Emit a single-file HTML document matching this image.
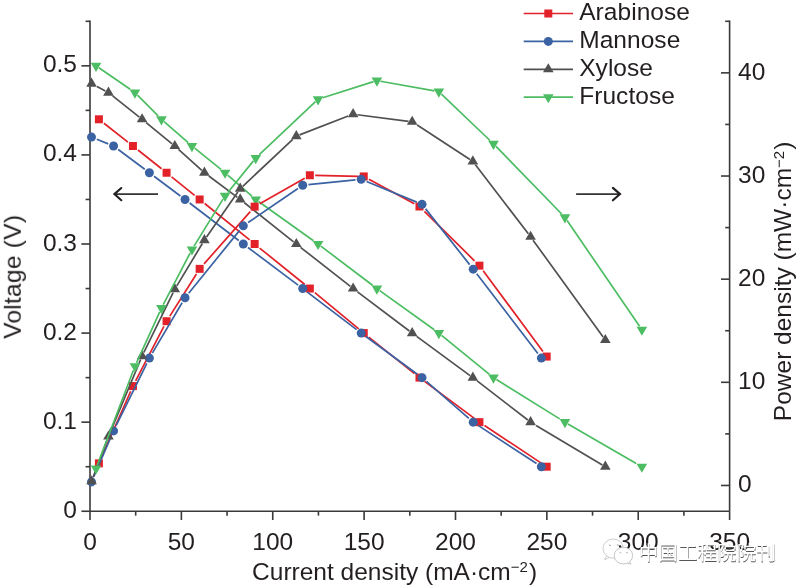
<!DOCTYPE html>
<html><head><meta charset="utf-8"><style>
html,body{margin:0;padding:0;background:#fff;}
svg{display:block;}
</style></head><body>
<svg width="800" height="588" viewBox="0 0 800 588">
<rect width="800" height="588" fill="#fff"/>
<g><path d="M90.0 511.25H729.60" stroke="#3a3839" stroke-width="1.6"/>
<path d="M90.0 20.50V511.25" stroke="#3a3839" stroke-width="1.6"/>
<path d="M729.60 20.50V511.25" stroke="#3a3839" stroke-width="1.6"/>
<path d="M90.00 511.25v8.8" stroke="#3a3839" stroke-width="1.6"/>
<path d="M135.69 511.25v4.4" stroke="#3a3839" stroke-width="1.6"/>
<path d="M181.37 511.25v8.8" stroke="#3a3839" stroke-width="1.6"/>
<path d="M227.06 511.25v4.4" stroke="#3a3839" stroke-width="1.6"/>
<path d="M272.74 511.25v8.8" stroke="#3a3839" stroke-width="1.6"/>
<path d="M318.43 511.25v4.4" stroke="#3a3839" stroke-width="1.6"/>
<path d="M364.11 511.25v8.8" stroke="#3a3839" stroke-width="1.6"/>
<path d="M409.80 511.25v4.4" stroke="#3a3839" stroke-width="1.6"/>
<path d="M455.49 511.25v8.8" stroke="#3a3839" stroke-width="1.6"/>
<path d="M501.17 511.25v4.4" stroke="#3a3839" stroke-width="1.6"/>
<path d="M546.86 511.25v8.8" stroke="#3a3839" stroke-width="1.6"/>
<path d="M592.54 511.25v4.4" stroke="#3a3839" stroke-width="1.6"/>
<path d="M638.23 511.25v8.8" stroke="#3a3839" stroke-width="1.6"/>
<path d="M683.91 511.25v4.4" stroke="#3a3839" stroke-width="1.6"/>
<path d="M729.60 511.25v8.8" stroke="#3a3839" stroke-width="1.6"/>
<path d="M90.0 511.25h-8.6" stroke="#3a3839" stroke-width="1.6"/>
<path d="M90.0 466.71h-4.4" stroke="#3a3839" stroke-width="1.6"/>
<path d="M90.0 422.17h-8.6" stroke="#3a3839" stroke-width="1.6"/>
<path d="M90.0 377.63h-4.4" stroke="#3a3839" stroke-width="1.6"/>
<path d="M90.0 333.09h-8.6" stroke="#3a3839" stroke-width="1.6"/>
<path d="M90.0 288.55h-4.4" stroke="#3a3839" stroke-width="1.6"/>
<path d="M90.0 244.00h-8.6" stroke="#3a3839" stroke-width="1.6"/>
<path d="M90.0 199.46h-4.4" stroke="#3a3839" stroke-width="1.6"/>
<path d="M90.0 154.92h-8.6" stroke="#3a3839" stroke-width="1.6"/>
<path d="M90.0 110.38h-4.4" stroke="#3a3839" stroke-width="1.6"/>
<path d="M90.0 65.84h-8.6" stroke="#3a3839" stroke-width="1.6"/>
<path d="M90.0 21.30h-4.4" stroke="#3a3839" stroke-width="1.6"/>
<path d="M729.60 485.46h-8.6" stroke="#3a3839" stroke-width="1.6"/>
<path d="M729.60 433.89h-4.4" stroke="#3a3839" stroke-width="1.6"/>
<path d="M729.60 382.31h-8.6" stroke="#3a3839" stroke-width="1.6"/>
<path d="M729.60 330.74h-4.4" stroke="#3a3839" stroke-width="1.6"/>
<path d="M729.60 279.17h-8.6" stroke="#3a3839" stroke-width="1.6"/>
<path d="M729.60 227.59h-4.4" stroke="#3a3839" stroke-width="1.6"/>
<path d="M729.60 176.02h-8.6" stroke="#3a3839" stroke-width="1.6"/>
<path d="M729.60 124.44h-4.4" stroke="#3a3839" stroke-width="1.6"/>
<path d="M729.60 72.87h-8.6" stroke="#3a3839" stroke-width="1.6"/>
<path d="M729.60 21.30h-4.4" stroke="#3a3839" stroke-width="1.6"/></g>
<g><path d="M103.92 123.23L127.92 142.07M137.96 150.00L161.55 168.75M171.58 176.79L194.63 195.41M204.66 203.52L249.64 239.95M259.66 248.05L304.83 284.50M314.84 292.68L358.75 328.95M368.76 337.09L414.47 373.62M424.53 381.38L474.38 418.42M484.51 425.54L541.59 463.34" stroke="#e32128" stroke-width="1.7" fill="none" stroke-linecap="butt"/>
<polygon points="94.90,115.29 102.90,115.29 102.90,123.29 94.90,123.29" fill="#e32128"/>
<polygon points="128.94,142.01 136.94,142.01 136.94,150.01 128.94,150.01" fill="#e32128"/>
<polygon points="162.57,168.74 170.57,168.74 170.57,176.74 162.57,176.74" fill="#e32128"/>
<polygon points="195.65,195.46 203.65,195.46 203.65,203.46 195.65,203.46" fill="#e32128"/>
<polygon points="250.65,240.00 258.65,240.00 258.65,248.00 250.65,248.00" fill="#e32128"/>
<polygon points="305.84,284.55 313.84,284.55 313.84,292.55 305.84,292.55" fill="#e32128"/>
<polygon points="359.75,329.09 367.75,329.09 367.75,337.09 359.75,337.09" fill="#e32128"/>
<polygon points="415.49,373.63 423.49,373.63 423.49,381.63 415.49,381.63" fill="#e32128"/>
<polygon points="475.43,418.17 483.43,418.17 483.43,426.17 475.43,426.17" fill="#e32128"/>
<polygon points="542.67,462.71 550.67,462.71 550.67,470.71 542.67,470.71" fill="#e32128"/>
<path d="M96.88 139.28L108.20 143.84M118.22 149.48L144.74 169.27M154.03 176.22L180.39 195.98M189.63 202.98L238.71 240.48M247.96 247.48L298.07 285.07M307.33 292.06L356.58 329.57M365.87 336.51L417.36 374.20M426.42 381.44L468.84 418.36M478.07 425.34L536.52 463.54" stroke="#3b62a2" stroke-width="1.7" fill="none" stroke-linecap="butt"/>
<circle cx="91.50" cy="137.11" r="4.5" fill="#3b62a2"/>
<circle cx="113.57" cy="146.01" r="4.5" fill="#3b62a2"/>
<circle cx="149.39" cy="172.74" r="4.5" fill="#3b62a2"/>
<circle cx="185.03" cy="199.46" r="4.5" fill="#3b62a2"/>
<circle cx="243.32" cy="244.00" r="4.5" fill="#3b62a2"/>
<circle cx="302.71" cy="288.55" r="4.5" fill="#3b62a2"/>
<circle cx="361.19" cy="333.09" r="4.5" fill="#3b62a2"/>
<circle cx="422.04" cy="377.63" r="4.5" fill="#3b62a2"/>
<circle cx="473.21" cy="422.17" r="4.5" fill="#3b62a2"/>
<circle cx="541.37" cy="466.71" r="4.5" fill="#3b62a2"/>
<path d="M96.99 86.52L105.39 90.95M112.62 95.87L139.35 117.12M146.14 122.60L172.08 143.80M178.48 149.34L201.78 170.37M208.82 176.04L237.42 197.38M244.38 202.77L293.58 241.83M300.53 247.31L350.37 286.39M357.49 291.85L409.39 330.99M416.67 336.38L470.04 375.57M477.13 380.93L527.83 420.04M536.07 425.43L602.36 464.94" stroke="#515151" stroke-width="1.7" fill="none" stroke-linecap="butt"/>
<polygon points="91.55,77.54 96.85,86.72 86.25,86.72" fill="#515151"/>
<polygon points="108.46,86.45 113.76,95.63 103.16,95.63" fill="#515151"/>
<polygon points="142.08,113.17 147.38,122.35 136.78,122.35" fill="#515151"/>
<polygon points="174.79,139.89 180.09,149.07 169.49,149.07" fill="#515151"/>
<polygon points="204.40,166.62 209.70,175.80 199.10,175.80" fill="#515151"/>
<polygon points="240.21,193.34 245.51,202.52 234.91,202.52" fill="#515151"/>
<polygon points="296.32,237.88 301.62,247.06 291.02,247.06" fill="#515151"/>
<polygon points="353.11,282.43 358.41,291.61 347.81,291.61" fill="#515151"/>
<polygon points="412.18,326.97 417.48,336.15 406.88,336.15" fill="#515151"/>
<polygon points="472.85,371.51 478.15,380.69 467.55,380.69" fill="#515151"/>
<polygon points="530.59,416.05 535.89,425.23 525.29,425.23" fill="#515151"/>
<polygon points="605.33,460.59 610.63,469.77 600.03,469.77" fill="#515151"/>
<path d="M98.89 67.80L130.17 89.28M137.47 95.10L158.14 115.95M164.10 121.61L188.18 142.69M194.69 148.21L220.95 169.43M227.70 175.05L251.93 196.14M258.57 201.48L313.46 240.71M320.84 246.11L372.54 285.24M379.73 290.57L434.28 329.79M441.57 335.30L489.43 374.31M496.43 379.46L559.70 418.90M567.94 423.90L636.25 463.45" stroke="#4cbd62" stroke-width="1.7" fill="none" stroke-linecap="butt"/>
<polygon points="96.03,71.96 101.33,62.78 90.73,62.78" fill="#4cbd62"/>
<polygon points="134.95,98.69 140.25,89.51 129.65,89.51" fill="#4cbd62"/>
<polygon points="161.45,125.41 166.75,116.23 156.15,116.23" fill="#4cbd62"/>
<polygon points="191.97,152.13 197.27,142.95 186.67,142.95" fill="#4cbd62"/>
<polygon points="225.05,178.86 230.35,169.68 219.75,169.68" fill="#4cbd62"/>
<polygon points="255.75,205.58 261.05,196.40 250.45,196.40" fill="#4cbd62"/>
<polygon points="318.06,250.12 323.36,240.94 312.76,240.94" fill="#4cbd62"/>
<polygon points="376.91,294.67 382.21,285.49 371.61,285.49" fill="#4cbd62"/>
<polygon points="438.86,339.21 444.16,330.03 433.56,330.03" fill="#4cbd62"/>
<polygon points="493.50,383.75 498.80,374.57 488.20,374.57" fill="#4cbd62"/>
<polygon points="564.95,428.29 570.25,419.11 559.65,419.11" fill="#4cbd62"/>
<polygon points="641.88,472.83 647.18,463.65 636.58,463.65" fill="#4cbd62"/>
<path d="M101.19 458.17L130.66 391.27M135.62 380.92L163.90 326.38M169.79 316.13L196.43 273.95M204.04 263.88L250.25 211.63M259.78 203.73L304.71 178.16M315.14 175.36L358.45 176.31M368.89 179.21L414.34 203.72M424.41 211.36L474.50 260.79M483.16 270.70L542.94 351.53" stroke="#e32128" stroke-width="1.7" fill="none" stroke-linecap="butt"/>
<polygon points="94.90,459.36 102.90,459.36 102.90,467.36 94.90,467.36" fill="#e32128"/>
<polygon points="128.94,382.08 136.94,382.08 136.94,390.08 128.94,390.08" fill="#e32128"/>
<polygon points="162.57,317.23 170.57,317.23 170.57,325.23 162.57,325.23" fill="#e32128"/>
<polygon points="195.65,264.85 203.65,264.85 203.65,272.85 195.65,272.85" fill="#e32128"/>
<polygon points="250.65,202.65 258.65,202.65 258.65,210.65 250.65,210.65" fill="#e32128"/>
<polygon points="305.84,171.24 313.84,171.24 313.84,179.24 305.84,179.24" fill="#e32128"/>
<polygon points="359.75,172.43 367.75,172.43 367.75,180.43 359.75,180.43" fill="#e32128"/>
<polygon points="415.49,202.50 423.49,202.50 423.49,210.50 415.49,210.50" fill="#e32128"/>
<polygon points="475.43,261.65 483.43,261.65 483.43,269.65 475.43,269.65" fill="#e32128"/>
<polygon points="542.67,352.58 550.67,352.58 550.67,360.58 542.67,360.58" fill="#e32128"/>
<path d="M93.80 476.58L111.27 436.23M116.13 425.70L146.83 363.28M152.34 353.08L182.08 302.73M188.68 293.23L239.67 230.34M248.11 222.57L297.92 188.57M308.48 184.71L355.42 179.91M366.55 181.52L416.68 202.13M425.64 208.88L469.62 264.61M476.74 273.76L537.85 353.47" stroke="#3b62a2" stroke-width="1.7" fill="none" stroke-linecap="butt"/>
<circle cx="91.50" cy="481.91" r="4.5" fill="#3b62a2"/>
<circle cx="113.57" cy="430.91" r="4.5" fill="#3b62a2"/>
<circle cx="149.39" cy="358.07" r="4.5" fill="#3b62a2"/>
<circle cx="185.03" cy="297.73" r="4.5" fill="#3b62a2"/>
<circle cx="243.32" cy="225.84" r="4.5" fill="#3b62a2"/>
<circle cx="302.71" cy="185.30" r="4.5" fill="#3b62a2"/>
<circle cx="361.19" cy="179.32" r="4.5" fill="#3b62a2"/>
<circle cx="422.04" cy="204.33" r="4.5" fill="#3b62a2"/>
<circle cx="473.21" cy="269.16" r="4.5" fill="#3b62a2"/>
<circle cx="541.37" cy="358.07" r="4.5" fill="#3b62a2"/>
<path d="M93.09 477.18L107.16 439.93M110.10 432.58L140.65 359.54M143.88 352.44L173.12 292.65M176.80 285.89L202.35 243.50M206.56 236.99L237.85 192.09M242.80 186.28L292.76 139.43M299.58 134.84L348.19 116.08M357.33 114.72L408.49 121.29M417.20 125.04L469.94 159.43M475.43 164.70L528.34 233.82M533.04 240.16L603.13 336.98" stroke="#515151" stroke-width="1.7" fill="none" stroke-linecap="butt"/>
<polygon points="91.55,475.13 96.85,484.31 86.25,484.31" fill="#515151"/>
<polygon points="108.46,430.38 113.76,439.56 103.16,439.56" fill="#515151"/>
<polygon points="142.08,349.99 147.38,359.17 136.78,359.17" fill="#515151"/>
<polygon points="174.79,283.11 180.09,292.29 169.49,292.29" fill="#515151"/>
<polygon points="204.40,233.97 209.70,243.15 199.10,243.15" fill="#515151"/>
<polygon points="240.21,182.59 245.51,191.76 234.91,191.76" fill="#515151"/>
<polygon points="296.32,129.98 301.62,139.16 291.02,139.16" fill="#515151"/>
<polygon points="353.11,108.06 358.41,117.24 347.81,117.24" fill="#515151"/>
<polygon points="412.18,115.64 417.48,124.82 406.88,124.82" fill="#515151"/>
<polygon points="472.85,155.20 478.15,164.38 467.55,164.38" fill="#515151"/>
<polygon points="530.59,230.65 535.89,239.83 525.29,239.83" fill="#515151"/>
<polygon points="605.33,333.90 610.63,343.08 600.03,343.08" fill="#515151"/>
<path d="M97.34 465.01L133.41 370.26M136.51 362.78L159.73 311.79M163.23 304.59L190.11 253.05M194.07 246.08L223.01 199.10M227.79 192.43L253.43 160.87M259.28 154.68L315.48 101.71M322.77 97.78L373.54 81.68M380.50 81.25L434.52 90.87M441.42 94.10L490.00 140.50M495.99 146.40L561.70 214.03M567.09 220.51L639.56 326.32" stroke="#4cbd62" stroke-width="1.7" fill="none" stroke-linecap="butt"/>
<polygon points="96.03,474.56 101.33,465.38 90.73,465.38" fill="#4cbd62"/>
<polygon points="134.95,372.32 140.25,363.14 129.65,363.14" fill="#4cbd62"/>
<polygon points="161.45,314.13 166.75,304.95 156.15,304.95" fill="#4cbd62"/>
<polygon points="191.97,255.60 197.27,246.42 186.67,246.42" fill="#4cbd62"/>
<polygon points="225.05,201.92 230.35,192.74 219.75,192.74" fill="#4cbd62"/>
<polygon points="255.75,164.14 261.05,154.96 250.45,154.96" fill="#4cbd62"/>
<polygon points="318.06,105.40 323.36,96.22 312.76,96.22" fill="#4cbd62"/>
<polygon points="376.91,86.73 382.21,77.55 371.61,77.55" fill="#4cbd62"/>
<polygon points="438.86,97.76 444.16,88.58 433.56,88.58" fill="#4cbd62"/>
<polygon points="493.50,149.96 498.80,140.78 488.20,140.78" fill="#4cbd62"/>
<polygon points="564.95,223.50 570.25,214.32 559.65,214.32" fill="#4cbd62"/>
<polygon points="641.88,335.83 647.18,326.65 636.58,326.65" fill="#4cbd62"/></g>
<g style="opacity:0.999" font-family="'Liberation Sans', Arial, sans-serif" font-size="24.5" fill="#231f20"><text x="77" y="517.75" text-anchor="end">0</text>
<text x="77" y="428.67" text-anchor="end">0.1</text>
<text x="77" y="339.59" text-anchor="end">0.2</text>
<text x="77" y="250.50" text-anchor="end">0.3</text>
<text x="77" y="161.42" text-anchor="end">0.4</text>
<text x="77" y="72.34" text-anchor="end">0.5</text>
<text x="738" y="492.46">0</text>
<text x="738" y="389.31">10</text>
<text x="738" y="286.17">20</text>
<text x="738" y="183.02">30</text>
<text x="738" y="79.87">40</text>
<text x="90.00" y="550" text-anchor="middle">0</text>
<text x="181.37" y="550" text-anchor="middle">50</text>
<text x="272.74" y="550" text-anchor="middle">100</text>
<text x="364.11" y="550" text-anchor="middle">150</text>
<text x="455.49" y="550" text-anchor="middle">200</text>
<text x="546.86" y="550" text-anchor="middle">250</text>
<text x="638.23" y="550" text-anchor="middle">300</text>
<text x="729.60" y="550" text-anchor="middle">350</text>
<text x="394.6" y="579.6" text-anchor="middle">Current density (mA·cm<tspan font-size="15" dy="-7.5">−2</tspan><tspan dy="7.5" dx="1">)</tspan></text>
<text transform="translate(20.8 276.8) rotate(-90)" text-anchor="middle" letter-spacing="0.27">Voltage (V)</text>
<text transform="translate(791.0 281.4) rotate(-90)" text-anchor="middle">Power density (mW·cm<tspan font-size="15" dy="-7.5">−2</tspan><tspan dy="7.5" dx="1">)</tspan></text>
<text x="579.2" y="20.20" letter-spacing="0.05">Arabinose</text>
<text x="579.2" y="48.10" letter-spacing="0.05">Mannose</text>
<text x="579.2" y="76.00" letter-spacing="0.05">Xylose</text>
<text x="579.2" y="103.90" letter-spacing="0.05">Fructose</text></g>
<g><path d="M523.7 13.50H573" stroke="#e32128" stroke-width="1.7"/>
<polygon points="544.30,9.50 552.30,9.50 552.30,17.50 544.30,17.50" fill="#e32128"/>
<path d="M523.7 41.40H573" stroke="#3b62a2" stroke-width="1.7"/>
<circle cx="548.30" cy="41.40" r="4.5" fill="#3b62a2"/>
<path d="M523.7 69.30H573" stroke="#515151" stroke-width="1.7"/>
<polygon points="548.30,63.18 553.60,72.36 543.00,72.36" fill="#515151"/>
<path d="M523.7 97.20H573" stroke="#4cbd62" stroke-width="1.7"/>
<polygon points="548.30,103.32 553.60,94.14 543.00,94.14" fill="#4cbd62"/></g>
<path d="M114.5 194.1H158" stroke="#353334" stroke-width="1.6"/>
<path d="M121.3 188.0L114.4 194.1L121.3 200.2" stroke="#231f20" stroke-width="2.1" fill="none" stroke-linecap="round" stroke-linejoin="miter"/>
<path d="M576.1 194.1H620.2" stroke="#353334" stroke-width="1.6"/>
<path d="M612.9 187.9L620.0 194.1L612.9 200.3" stroke="#231f20" stroke-width="2.1" fill="none" stroke-linecap="round" stroke-linejoin="miter"/>
<g style="opacity:0.999">
<ellipse cx="613.2" cy="548.6" rx="10.2" ry="9.6" fill="none" stroke="#c2c2c2" stroke-width="0.8"/>
<path d="M606.2 556.2L604.6 559.8L609.2 557.6" fill="none" stroke="#c2c2c2" stroke-width="0.8"/>
<path d="M609 545.6q0.9-1.2 1.8 0M616.9 545.3q0.9-1.2 1.8 0" fill="none" stroke="#8a8a8a" stroke-width="0.9"/>
<ellipse cx="623.4" cy="555.6" rx="9.2" ry="8.4" fill="#fff" stroke="#b8b8b8" stroke-width="0.8"/>
<path d="M629.5 561.6L630.8 564.2L627.2 563.2" fill="#fff" stroke="#b8b8b8" stroke-width="0.8"/>
<path d="M619.6 553q0.8-1 1.6 0M626.2 552.9q0.8-1 1.6 0" fill="none" stroke="#9a9a9a" stroke-width="0.9"/>
<text x="638.7" y="560.2" font-family="'Liberation Sans','Noto Sans CJK SC','WenQuanYi Zen Hei',sans-serif" font-size="19.6" fill="#555555" transform="translate(0.3 1.0)">中国工程院院刊</text>
<text x="638.7" y="560.2" font-family="'Liberation Sans','Noto Sans CJK SC','WenQuanYi Zen Hei',sans-serif" font-size="19.6" fill="#ffffff">中国工程院院刊</text>
</g>
</svg>
</body></html>
